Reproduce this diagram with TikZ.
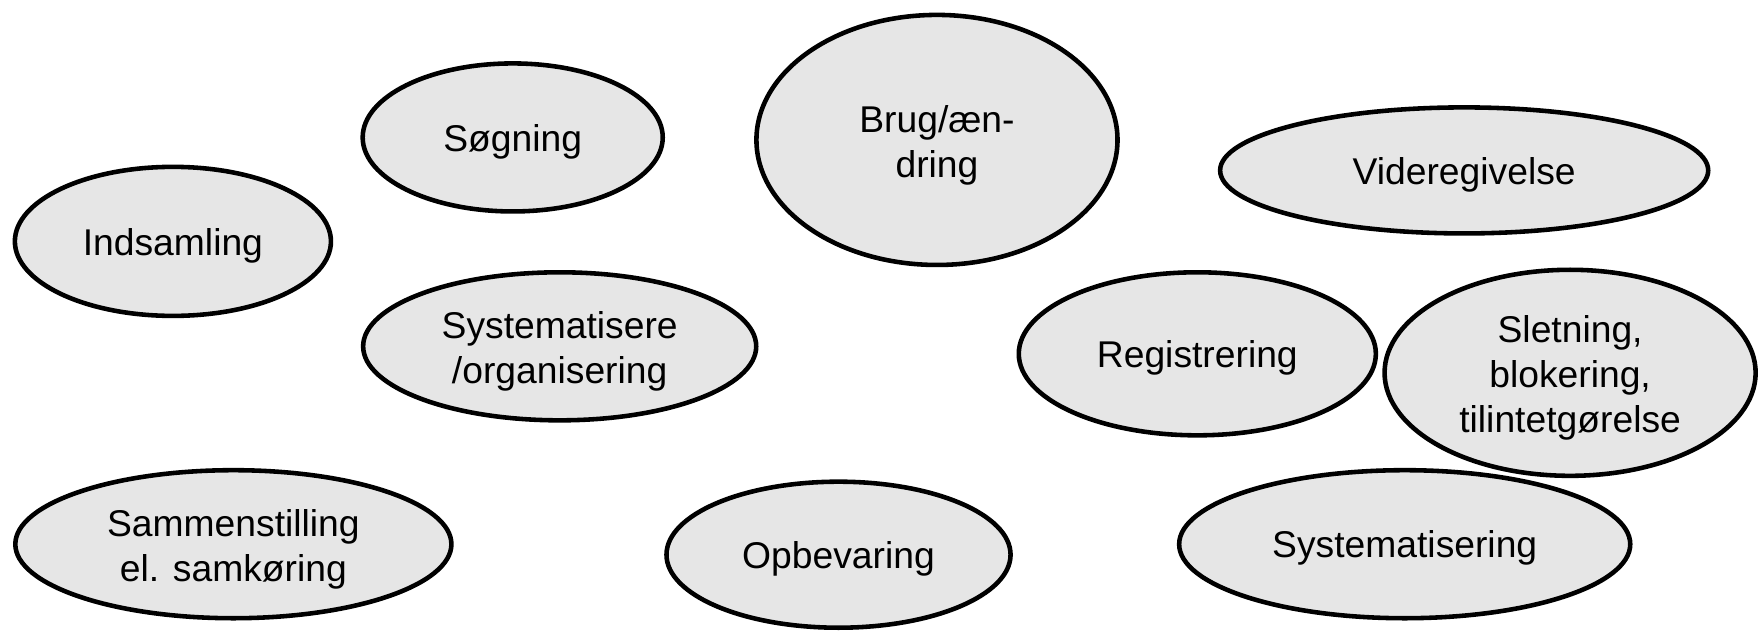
\documentclass[tikz,border=0pt]{standalone}
\usepackage{fontspec}
\setmainfont{Liberation Sans}
\usetikzlibrary{shapes.geometric}
\definecolor{fillgray}{HTML}{E6E6E6}
\newcommand{\topstrut}{\rule[-2pt]{0pt}{12.8pt}}
\tikzset{
  oval/.style={ellipse, draw=black, line width=1.3pt, fill=fillgray, inner sep=0pt,
    align=center, font=\fontsize{10.6}{12.8}\selectfont,
    execute at begin node={\rule[-2pt]{0pt}{12pt}}},
}
\newcommand{\ov}[6]{\node[oval, minimum width=#4*0.02cm, minimum height=#5*0.02cm] (#1) at (#2*0.01cm,-#3*0.01cm) {#6};}
\begin{document}
\begin{tikzpicture}
\useasboundingbox (0,0) rectangle (17.59cm,-6.31cm);
\ov{inds}{173}{241.5}{158}{74.5}{Indsamling}
\ov{soeg}{513}{137.5}{150}{74}{Søgning}
\ov{brug}{937.5}{140}{180.5}{125}{\topstrut Brug/æn-\\dring}
\ov{vide}{1465}{170.5}{244}{63}{Videregivelse}
\ov{syst}{560}{346.5}{196.5}{74}{\topstrut Systematisere\\/organisering}
\ov{regi}{1198}{354}{178.5}{81.5}{Registrering}
\ov{slet}{1571}{373}{185.5}{103}{\topstrut Sletning,\\blokering,\\tilintetgørelse}
\ov{samm}{233.5}{544.5}{218}{74}{\topstrut Sammenstilling\\el. samkøring}
\ov{opbe}{839}{555}{172}{73}{Opbevaring}
\ov{sysg}{1405.5}{544.5}{225.5}{74}{Systematisering}
\end{tikzpicture}
\end{document}
